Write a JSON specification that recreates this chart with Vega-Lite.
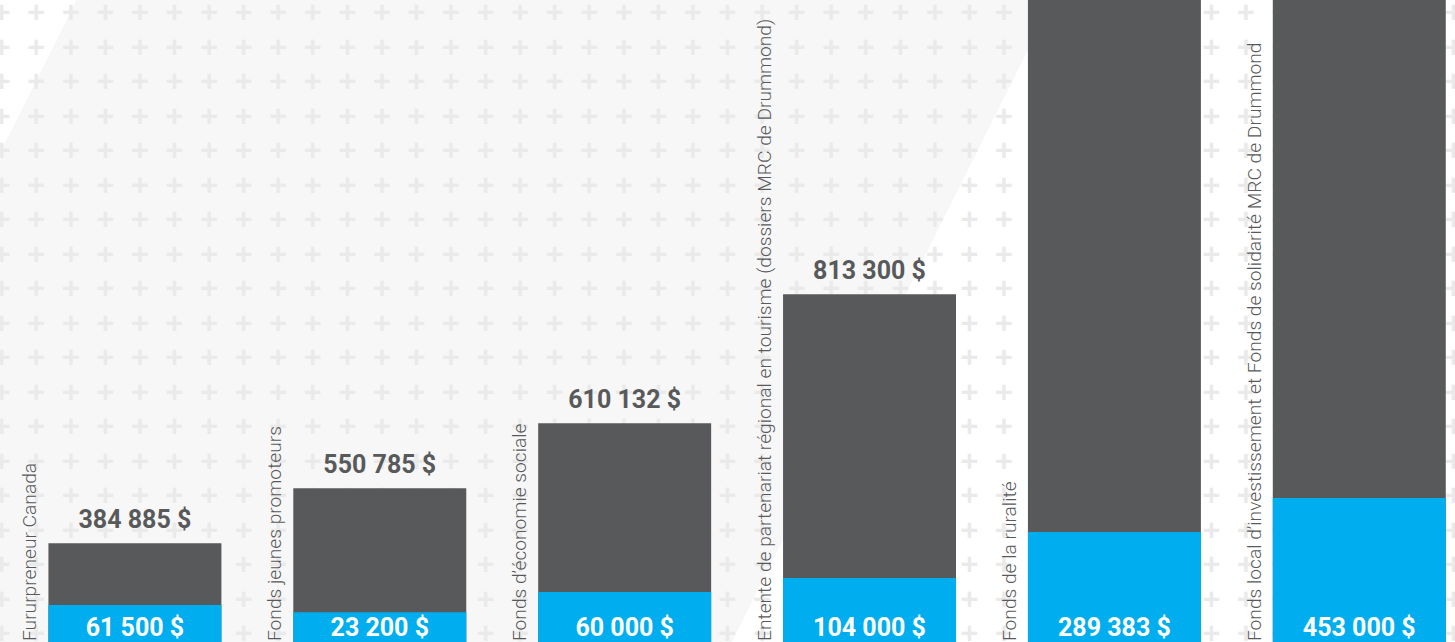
{
  "$schema": "https://vega.github.io/schema/vega-lite/v6.json",
  "width": 1455,
  "height": 642,
  "autosize": {"type": "none"},
  "padding": 0,
  "background": "#ffffff",
  "config": {
    "view": {"stroke": null},
    "locale": {"number": {"decimal": ",", "thousands": "\u00a0", "grouping": [3], "currency": ["", "\u00a0$"]}}
  },
  "data": {
    "values": [
      {"fonds": "Fururpreneur Canada", "total": 384885, "part": 61500, "hauteur_total": 15.4, "hauteur_part": 5.76},
      {"fonds": "Fonds jeunes promoteurs", "total": 550785, "part": 23200, "hauteur_total": 23.94, "hauteur_part": 4.63},
      {"fonds": "Fonds d’économie sociale", "total": 610132, "part": 60000, "hauteur_total": 34.07, "hauteur_part": 7.79},
      {"fonds": "Entente de partenariat régional en tourisme (dossiers MRC de Drummond)", "total": 813300, "part": 104000, "hauteur_total": 54.16, "hauteur_part": 9.97},
      {"fonds": "Fonds de la ruralité", "total": null, "part": 289383, "hauteur_total": 110, "hauteur_part": 17.13},
      {"fonds": "Fonds local d’investissement et Fonds de solidarité MRC de Drummond", "total": null, "part": 453000, "hauteur_total": 110, "hauteur_part": 22.43}
    ]
  },
  "layer": [
    {
      "data": {"values": [{"fond": "decor"}]},
      "mark": {
        "type": "rect",
        "fill": {
          "gradient": "linear", "x1": 0, "y1": 0, "x2": 1, "y2": 0.2206,
          "stops": [
            {"offset": 0, "color": "#ffffff"},
            {"offset": 0.05, "color": "#ffffff"},
            {"offset": 0.05, "color": "#f7f7f7"},
            {"offset": 0.69, "color": "#f7f7f7"},
            {"offset": 0.69, "color": "#ffffff"},
            {"offset": 1, "color": "#ffffff"}
          ]
        }
      },
      "encoding": {
        "x": {"value": 0}, "x2": {"value": "width"},
        "y": {"value": 0}, "y2": {"value": "height"}
      }
    },
    {
      "data": {"values": [{"fond": "motif"}]},
      "mark": {
        "type": "text",
        "font": "DejaVu Sans Mono",
        "fontWeight": "bold",
        "fontSize": 28.71,
        "lineHeight": 34.5,
        "align": "center",
        "baseline": "middle",
        "dy": 12,
        "color": "#eaeaea",
        "text": [
          "+ + + + + + + + + + + + + + + + + + + + + + + + + + + + + + + + + + + + + + + + + + +",
          "+ + + + + + + + + + + + + + + + + + + + + + + + + + + + + + + + + + + + + + + + + + +",
          "+ + + + + + + + + + + + + + + + + + + + + + + + + + + + + + + + + + + + + + + + + + +",
          "+ + + + + + + + + + + + + + + + + + + + + + + + + + + + + + + + + + + + + + + + + + +",
          "+ + + + + + + + + + + + + + + + + + + + + + + + + + + + + + + + + + + + + + + + + + +",
          "+ + + + + + + + + + + + + + + + + + + + + + + + + + + + + + + + + + + + + + + + + + +",
          "+ + + + + + + + + + + + + + + + + + + + + + + + + + + + + + + + + + + + + + + + + + +",
          "+ + + + + + + + + + + + + + + + + + + + + + + + + + + + + + + + + + + + + + + + + + +",
          "+ + + + + + + + + + + + + + + + + + + + + + + + + + + + + + + + + + + + + + + + + + +",
          "+ + + + + + + + + + + + + + + + + + + + + + + + + + + + + + + + + + + + + + + + + + +",
          "+ + + + + + + + + + + + + + + + + + + + + + + + + + + + + + + + + + + + + + + + + + +",
          "+ + + + + + + + + + + + + + + + + + + + + + + + + + + + + + + + + + + + + + + + + + +",
          "+ + + + + + + + + + + + + + + + + + + + + + + + + + + + + + + + + + + + + + + + + + +",
          "+ + + + + + + + + + + + + + + + + + + + + + + + + + + + + + + + + + + + + + + + + + +",
          "+ + + + + + + + + + + + + + + + + + + + + + + + + + + + + + + + + + + + + + + + + + +",
          "+ + + + + + + + + + + + + + + + + + + + + + + + + + + + + + + + + + + + + + + + + + +",
          "+ + + + + + + + + + + + + + + + + + + + + + + + + + + + + + + + + + + + + + + + + + +",
          "+ + + + + + + + + + + + + + + + + + + + + + + + + + + + + + + + + + + + + + + + + + +",
          "+ + + + + + + + + + + + + + + + + + + + + + + + + + + + + + + + + + + + + + + + + + +"
        ]
      },
      "encoding": {"y": {"value": 0}}
    },
    {
      "mark": {"type": "bar", "color": "#58595b", "clip": true},
      "encoding": {
        "x": {
          "field": "fonds", "type": "nominal", "sort": null, "axis": null,
          "scale": {"paddingInner": 0.2936, "paddingOuter": 0.1177, "align": 0.84}
        },
        "y": {"field": "hauteur_total", "type": "quantitative", "axis": null, "scale": {"domain": [0, 100], "nice": false}}
      }
    },
    {
      "mark": {"type": "bar", "color": "#00aeef"},
      "encoding": {
        "x": {"field": "fonds", "type": "nominal", "sort": null},
        "y": {"field": "hauteur_part", "type": "quantitative"}
      }
    },
    {
      "transform": [{"filter": "isValid(datum.total)"}],
      "mark": {
        "type": "text", "baseline": "alphabetic", "align": "center", "dy": -15,
        "font": "Roboto", "fontWeight": "bold", "fontSize": 25, "color": "#58595b"
      },
      "encoding": {
        "x": {"field": "fonds", "type": "nominal", "sort": null},
        "y": {"field": "hauteur_total", "type": "quantitative"},
        "text": {"field": "total", "type": "quantitative", "format": "$,.0f"}
      }
    },
    {
      "mark": {
        "type": "text", "baseline": "alphabetic", "align": "center", "dy": -6,
        "font": "Roboto", "fontWeight": "bold", "fontSize": 25, "color": "#ffffff"
      },
      "encoding": {
        "x": {"field": "fonds", "type": "nominal", "sort": null},
        "y": {"value": "height"},
        "text": {"field": "part", "type": "quantitative", "format": "$,.0f"}
      }
    },
    {
      "mark": {
        "type": "text", "angle": 270, "align": "left", "baseline": "alphabetic", "dx": 1, "dy": -12,
        "font": "Roboto", "fontWeight": 300, "fontSize": 19.2, "color": "#58595b"
      },
      "encoding": {
        "x": {"field": "fonds", "type": "nominal", "sort": null, "bandPosition": 0},
        "y": {"value": "height"},
        "text": {"field": "fonds", "type": "nominal"}
      }
    }
  ]
}
